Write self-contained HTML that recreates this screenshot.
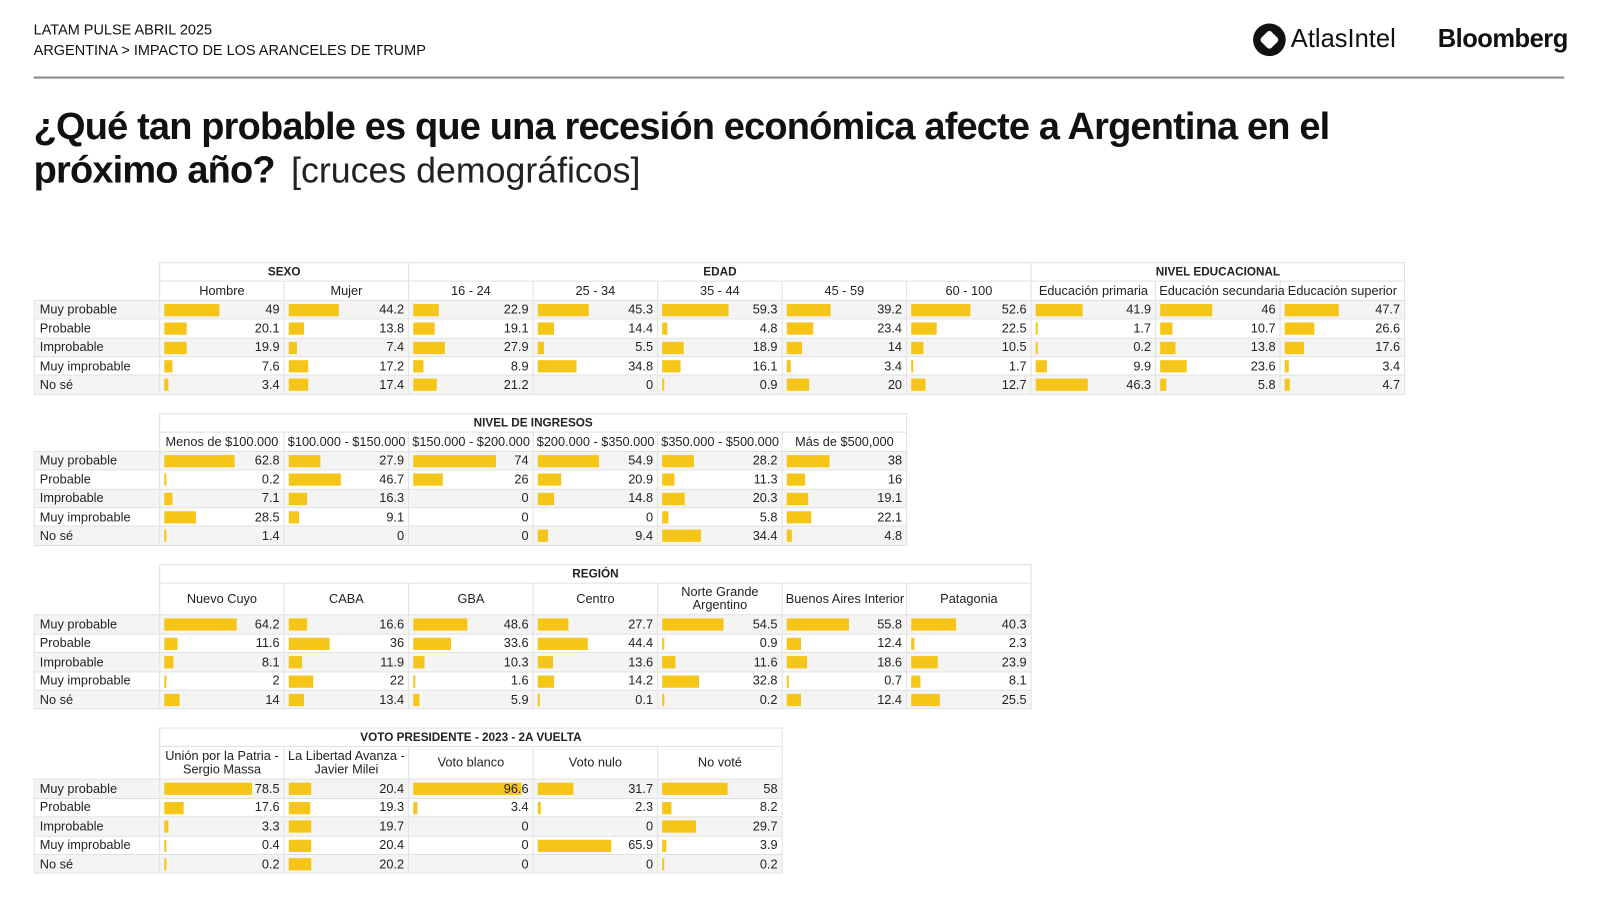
<!DOCTYPE html>
<html><head><meta charset="utf-8">
<style>
*{margin:0;padding:0;box-sizing:border-box}
body{width:1600px;height:900px;background:#fff;font-family:"Liberation Sans",sans-serif;color:#111;position:relative;overflow:hidden}
.wrap{position:absolute;left:0;top:0;width:1568px;height:882px;transform:scale(1.0204);transform-origin:0 0}
.hd{position:absolute;left:33px;font-size:14.2px;color:#111}
.rule{position:absolute;left:33px;top:75px;width:1500px;height:2px;background:#888}
.t1{position:absolute;left:33px;top:102px;font-size:37.2px;font-weight:bold;letter-spacing:-0.8px;line-height:43px;color:#111}
.t1 span{font-weight:normal;letter-spacing:0;color:#222;margin-left:16px;font-size:35px}
table{position:absolute;left:33px;border-collapse:collapse;table-layout:fixed;font-size:12.5px;color:#222}
td{border:1px solid #e0e0e0;height:18.4px;padding:0 3px;position:relative;white-space:nowrap}
td.e{border:none}
td.g{text-align:center;font-weight:bold;font-size:11.5px}
td.s{text-align:center;line-height:13px}
td.l{padding-left:5px}
td.d{text-align:right;padding-right:4px;z-index:0}
tr.a td{background:#f4f4f4}
tr.a td.e{background:none}
td b{position:absolute;z-index:-1;left:4px;top:3px;height:12px;background:#f5c518;width:calc(var(--v)*1.1px);min-width:2px}
</style></head><body><div class="wrap">
<div class="hd" style="top:22px">LATAM PULSE ABRIL 2025</div>
<div class="hd" style="top:42px">ARGENTINA &gt; IMPACTO DE LOS ARANCELES DE TRUMP</div>
<div style="position:absolute;left:1228px;top:23px;width:32px;height:32px;border-radius:50%;background:#111"></div>
<div style="position:absolute;left:1237px;top:32px;width:14px;height:14px;background:#fff;transform:rotate(45deg);border-radius:3px"></div>
<div style="position:absolute;left:1265px;top:24px;font-size:25px;color:#111">AtlasIntel</div>
<div style="position:absolute;left:1409px;top:24px;font-size:25px;font-weight:bold;color:#111;letter-spacing:-0.5px">Bloomberg</div>
<div class="rule"></div>
<div class="t1">¿Qué tan probable es que una recesión económica afecte a Argentina en el<br>próximo año?<span>[cruces demográficos]</span></div>

<table style="top:257px;width:1343px">
<colgroup><col style="width:123px"><col span="10" style="width:122px"></colgroup>
<tr><td class="e"></td><td class="g" colspan="2">SEXO</td><td class="g" colspan="5">EDAD</td><td class="g" colspan="3">NIVEL EDUCACIONAL</td></tr>
<tr><td class="e"></td><td class="s">Hombre</td><td class="s">Mujer</td><td class="s">16 - 24</td><td class="s">25 - 34</td><td class="s">35 - 44</td><td class="s">45 - 59</td><td class="s">60 - 100</td><td class="s">Educación primaria</td><td class="s">Educación secundaria</td><td class="s">Educación superior</td></tr>
<tr class="a"><td class="l">Muy probable</td><td class="d"><b style="--v:49"></b>49</td><td class="d"><b style="--v:44.2"></b>44.2</td><td class="d"><b style="--v:22.9"></b>22.9</td><td class="d"><b style="--v:45.3"></b>45.3</td><td class="d"><b style="--v:59.3"></b>59.3</td><td class="d"><b style="--v:39.2"></b>39.2</td><td class="d"><b style="--v:52.6"></b>52.6</td><td class="d"><b style="--v:41.9"></b>41.9</td><td class="d"><b style="--v:46"></b>46</td><td class="d"><b style="--v:47.7"></b>47.7</td></tr>
<tr><td class="l">Probable</td><td class="d"><b style="--v:20.1"></b>20.1</td><td class="d"><b style="--v:13.8"></b>13.8</td><td class="d"><b style="--v:19.1"></b>19.1</td><td class="d"><b style="--v:14.4"></b>14.4</td><td class="d"><b style="--v:4.8"></b>4.8</td><td class="d"><b style="--v:23.4"></b>23.4</td><td class="d"><b style="--v:22.5"></b>22.5</td><td class="d"><b style="--v:1.7"></b>1.7</td><td class="d"><b style="--v:10.7"></b>10.7</td><td class="d"><b style="--v:26.6"></b>26.6</td></tr>
<tr class="a"><td class="l">Improbable</td><td class="d"><b style="--v:19.9"></b>19.9</td><td class="d"><b style="--v:7.4"></b>7.4</td><td class="d"><b style="--v:27.9"></b>27.9</td><td class="d"><b style="--v:5.5"></b>5.5</td><td class="d"><b style="--v:18.9"></b>18.9</td><td class="d"><b style="--v:14"></b>14</td><td class="d"><b style="--v:10.5"></b>10.5</td><td class="d"><b style="--v:0.2"></b>0.2</td><td class="d"><b style="--v:13.8"></b>13.8</td><td class="d"><b style="--v:17.6"></b>17.6</td></tr>
<tr><td class="l">Muy improbable</td><td class="d"><b style="--v:7.6"></b>7.6</td><td class="d"><b style="--v:17.2"></b>17.2</td><td class="d"><b style="--v:8.9"></b>8.9</td><td class="d"><b style="--v:34.8"></b>34.8</td><td class="d"><b style="--v:16.1"></b>16.1</td><td class="d"><b style="--v:3.4"></b>3.4</td><td class="d"><b style="--v:1.7"></b>1.7</td><td class="d"><b style="--v:9.9"></b>9.9</td><td class="d"><b style="--v:23.6"></b>23.6</td><td class="d"><b style="--v:3.4"></b>3.4</td></tr>
<tr class="a"><td class="l">No sé</td><td class="d"><b style="--v:3.4"></b>3.4</td><td class="d"><b style="--v:17.4"></b>17.4</td><td class="d"><b style="--v:21.2"></b>21.2</td><td class="d">0</td><td class="d"><b style="--v:0.9"></b>0.9</td><td class="d"><b style="--v:20"></b>20</td><td class="d"><b style="--v:12.7"></b>12.7</td><td class="d"><b style="--v:46.3"></b>46.3</td><td class="d"><b style="--v:5.8"></b>5.8</td><td class="d"><b style="--v:4.7"></b>4.7</td></tr>
</table>

<table style="top:405px;width:855px">
<colgroup><col style="width:123px"><col span="6" style="width:122px"></colgroup>
<tr><td class="e"></td><td class="g" colspan="6">NIVEL DE INGRESOS</td></tr>
<tr><td class="e"></td><td class="s">Menos de $100.000</td><td class="s">$100.000 - $150.000</td><td class="s">$150.000 - $200.000</td><td class="s">$200.000 - $350.000</td><td class="s">$350.000 - $500.000</td><td class="s">Más de $500,000</td></tr>
<tr class="a"><td class="l">Muy probable</td><td class="d"><b style="--v:62.8"></b>62.8</td><td class="d"><b style="--v:27.9"></b>27.9</td><td class="d"><b style="--v:74"></b>74</td><td class="d"><b style="--v:54.9"></b>54.9</td><td class="d"><b style="--v:28.2"></b>28.2</td><td class="d"><b style="--v:38"></b>38</td></tr>
<tr><td class="l">Probable</td><td class="d"><b style="--v:0.2"></b>0.2</td><td class="d"><b style="--v:46.7"></b>46.7</td><td class="d"><b style="--v:26"></b>26</td><td class="d"><b style="--v:20.9"></b>20.9</td><td class="d"><b style="--v:11.3"></b>11.3</td><td class="d"><b style="--v:16"></b>16</td></tr>
<tr class="a"><td class="l">Improbable</td><td class="d"><b style="--v:7.1"></b>7.1</td><td class="d"><b style="--v:16.3"></b>16.3</td><td class="d">0</td><td class="d"><b style="--v:14.8"></b>14.8</td><td class="d"><b style="--v:20.3"></b>20.3</td><td class="d"><b style="--v:19.1"></b>19.1</td></tr>
<tr><td class="l">Muy improbable</td><td class="d"><b style="--v:28.5"></b>28.5</td><td class="d"><b style="--v:9.1"></b>9.1</td><td class="d">0</td><td class="d">0</td><td class="d"><b style="--v:5.8"></b>5.8</td><td class="d"><b style="--v:22.1"></b>22.1</td></tr>
<tr class="a"><td class="l">No sé</td><td class="d"><b style="--v:1.4"></b>1.4</td><td class="d">0</td><td class="d">0</td><td class="d"><b style="--v:9.4"></b>9.4</td><td class="d"><b style="--v:34.4"></b>34.4</td><td class="d"><b style="--v:4.8"></b>4.8</td></tr>
</table>

<table style="top:553px;width:977px">
<colgroup><col style="width:123px"><col span="7" style="width:122px"></colgroup>
<tr><td class="e"></td><td class="g" colspan="7">REGIÓN</td></tr>
<tr><td class="e" style="height:31px"></td><td class="s">Nuevo Cuyo</td><td class="s">CABA</td><td class="s">GBA</td><td class="s">Centro</td><td class="s">Norte Grande<br>Argentino</td><td class="s">Buenos Aires Interior</td><td class="s">Patagonia</td></tr>
<tr class="a"><td class="l">Muy probable</td><td class="d"><b style="--v:64.2"></b>64.2</td><td class="d"><b style="--v:16.6"></b>16.6</td><td class="d"><b style="--v:48.6"></b>48.6</td><td class="d"><b style="--v:27.7"></b>27.7</td><td class="d"><b style="--v:54.5"></b>54.5</td><td class="d"><b style="--v:55.8"></b>55.8</td><td class="d"><b style="--v:40.3"></b>40.3</td></tr>
<tr><td class="l">Probable</td><td class="d"><b style="--v:11.6"></b>11.6</td><td class="d"><b style="--v:36"></b>36</td><td class="d"><b style="--v:33.6"></b>33.6</td><td class="d"><b style="--v:44.4"></b>44.4</td><td class="d"><b style="--v:0.9"></b>0.9</td><td class="d"><b style="--v:12.4"></b>12.4</td><td class="d"><b style="--v:2.3"></b>2.3</td></tr>
<tr class="a"><td class="l">Improbable</td><td class="d"><b style="--v:8.1"></b>8.1</td><td class="d"><b style="--v:11.9"></b>11.9</td><td class="d"><b style="--v:10.3"></b>10.3</td><td class="d"><b style="--v:13.6"></b>13.6</td><td class="d"><b style="--v:11.6"></b>11.6</td><td class="d"><b style="--v:18.6"></b>18.6</td><td class="d"><b style="--v:23.9"></b>23.9</td></tr>
<tr><td class="l">Muy improbable</td><td class="d"><b style="--v:2"></b>2</td><td class="d"><b style="--v:22"></b>22</td><td class="d"><b style="--v:1.6"></b>1.6</td><td class="d"><b style="--v:14.2"></b>14.2</td><td class="d"><b style="--v:32.8"></b>32.8</td><td class="d"><b style="--v:0.7"></b>0.7</td><td class="d"><b style="--v:8.1"></b>8.1</td></tr>
<tr class="a"><td class="l">No sé</td><td class="d"><b style="--v:14"></b>14</td><td class="d"><b style="--v:13.4"></b>13.4</td><td class="d"><b style="--v:5.9"></b>5.9</td><td class="d"><b style="--v:0.1"></b>0.1</td><td class="d"><b style="--v:0.2"></b>0.2</td><td class="d"><b style="--v:12.4"></b>12.4</td><td class="d"><b style="--v:25.5"></b>25.5</td></tr>
</table>

<table style="top:713px;width:733px">
<colgroup><col style="width:123px"><col span="5" style="width:122px"></colgroup>
<tr><td class="e"></td><td class="g" colspan="5">VOTO PRESIDENTE - 2023 - 2A VUELTA</td></tr>
<tr><td class="e" style="height:32px"></td><td class="s">Unión por la Patria -<br>Sergio Massa</td><td class="s">La Libertad Avanza -<br>Javier Milei</td><td class="s">Voto blanco</td><td class="s">Voto nulo</td><td class="s">No voté</td></tr>
<tr class="a"><td class="l">Muy probable</td><td class="d"><b style="--v:78.5"></b>78.5</td><td class="d"><b style="--v:20.4"></b>20.4</td><td class="d"><b style="--v:96.6"></b>96.6</td><td class="d"><b style="--v:31.7"></b>31.7</td><td class="d"><b style="--v:58"></b>58</td></tr>
<tr><td class="l">Probable</td><td class="d"><b style="--v:17.6"></b>17.6</td><td class="d"><b style="--v:19.3"></b>19.3</td><td class="d"><b style="--v:3.4"></b>3.4</td><td class="d"><b style="--v:2.3"></b>2.3</td><td class="d"><b style="--v:8.2"></b>8.2</td></tr>
<tr class="a"><td class="l">Improbable</td><td class="d"><b style="--v:3.3"></b>3.3</td><td class="d"><b style="--v:19.7"></b>19.7</td><td class="d">0</td><td class="d">0</td><td class="d"><b style="--v:29.7"></b>29.7</td></tr>
<tr><td class="l">Muy improbable</td><td class="d"><b style="--v:0.4"></b>0.4</td><td class="d"><b style="--v:20.4"></b>20.4</td><td class="d">0</td><td class="d"><b style="--v:65.9"></b>65.9</td><td class="d"><b style="--v:3.9"></b>3.9</td></tr>
<tr class="a"><td class="l">No sé</td><td class="d"><b style="--v:0.2"></b>0.2</td><td class="d"><b style="--v:20.2"></b>20.2</td><td class="d">0</td><td class="d">0</td><td class="d"><b style="--v:0.2"></b>0.2</td></tr>
</table>
</div></body></html>
